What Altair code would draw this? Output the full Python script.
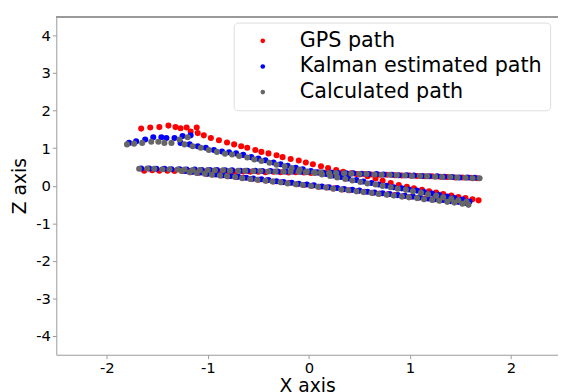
import altair as alt
import pandas as pd

# ---------------- GPS path ----------------
gps_upper_x = [-1.66, -1.57, -1.48, -1.39, -1.32, -1.27, -1.21, -1.11, -1.17, -1.10, -1.04, -0.97,
               -0.89, -0.81, -0.74, -0.67, -0.61, -0.53, -0.47, -0.40, -0.32, -0.26, -0.18, -0.10,
               -0.03, 0.04, 0.12, 0.19, 0.27, 0.34, 0.42, 0.50, 0.58, 0.66, 0.73, 0.81,
               0.89, 0.97, 1.04, 1.12, 1.19, 1.26, 1.33, 1.41, 1.48, 1.55, 1.62, 1.68]
gps_upper_z = [1.52, 1.55, 1.56, 1.60, 1.56, 1.53, 1.55, 1.55, 1.44, 1.40, 1.34, 1.27,
               1.21, 1.15, 1.10, 1.05, 1.01, 0.95, 0.90, 0.86, 0.81, 0.76, 0.71, 0.67,
               0.62, 0.57, 0.52, 0.47, 0.42, 0.37, 0.33, 0.30, 0.25, 0.19, 0.13, 0.07,
               0.02, -0.03, -0.07, -0.11, -0.15, -0.18, -0.22, -0.26, -0.30, -0.33, -0.36, -0.39]
gps_flat_x = [-1.63, -1.55, -1.48, -1.40, -1.33, -1.25, -1.18, -1.10, -1.03, -0.95, -0.88, -0.80,
              -0.73, -0.65, -0.58, -0.50, -0.43, -0.35, -0.28, -0.20, -0.13, -0.05, 0.02, 0.10,
              0.17, 0.25, 0.32, 0.40, 0.47, 0.55, 0.62, 0.70, 0.77, 0.85, 0.92, 1.00,
              1.07, 1.15, 1.22, 1.30, 1.37, 1.45, 1.52, 1.60, 1.67]
gps_flat_z = [0.40, 0.41, 0.40, 0.40, 0.39, 0.40, 0.39, 0.39, 0.38, 0.39, 0.38, 0.38,
              0.37, 0.38, 0.37, 0.37, 0.36, 0.37, 0.36, 0.35, 0.36, 0.35, 0.34, 0.35,
              0.34, 0.33, 0.33, 0.32, 0.31, 0.31, 0.30, 0.29, 0.29, 0.28, 0.27, 0.27,
              0.26, 0.25, 0.25, 0.24, 0.23, 0.22, 0.22, 0.21, 0.20]
gps_lower_x = [-1.25, -1.17, -1.10, -1.02, -0.95, -0.87, -0.80, -0.72, -0.65, -0.57, -0.50, -0.42,
               -0.35, -0.27, -0.20, -0.12, -0.05, 0.03, 0.10, 0.18, 0.25, 0.33, 0.40, 0.48,
               0.55, 0.63, 0.70, 0.78, 0.85, 0.93, 1.00, 1.08, 1.15, 1.23, 1.30, 1.38, 1.45, 1.53]
gps_lower_z = [0.39, 0.36, 0.34, 0.32, 0.30, 0.27, 0.25, 0.23, 0.21, 0.18, 0.16, 0.14,
               0.11, 0.09, 0.07, 0.04, 0.02, 0.00, -0.03, -0.05, -0.07, -0.10, -0.12, -0.14,
               -0.16, -0.19, -0.21, -0.23, -0.25, -0.28, -0.30, -0.32, -0.34, -0.37, -0.39, -0.41, -0.43, -0.45]

# ---------------- Kalman estimated path ----------------
kal_upper_x = [-1.78, -1.71, -1.62, -1.54, -1.46, -1.41, -1.33, -1.25, -1.17,
               -1.27, -1.18, -1.10, -1.02, -0.94, -0.86, -0.79, -0.72, -0.65, -0.57, -0.50, -0.43,
               -0.35, -0.28, -0.21, -0.13, -0.06, 0.02, 0.09, 0.17, 0.24, 0.32, 0.39, 0.47,
               0.54, 0.62, 0.69, 0.77, 0.84, 0.92, 0.99, 1.07, 1.14, 1.22, 1.29, 1.37, 1.44, 1.52, 1.59]
kal_upper_z = [1.14, 1.18, 1.23, 1.29, 1.29, 1.27, 1.27, 1.32, 1.34,
               1.14, 1.10, 1.05, 1.01, 0.95, 0.91, 0.89, 0.86, 0.82, 0.76, 0.72, 0.68,
               0.62, 0.57, 0.53, 0.48, 0.44, 0.39, 0.35, 0.31, 0.27, 0.23, 0.19, 0.15,
               0.11, 0.07, 0.03, 0.00, -0.04, -0.07, -0.10, -0.13, -0.17, -0.21, -0.25, -0.29, -0.33, -0.37, -0.42]
kal_flat_x = [-1.66, -1.58, -1.51, -1.43, -1.36, -1.28, -1.21, -1.13, -1.06, -0.98, -0.91, -0.83,
              -0.76, -0.68, -0.61, -0.53, -0.46, -0.38, -0.31, -0.23, -0.16, -0.08, -0.01, 0.07,
              0.14, 0.22, 0.29, 0.37, 0.44, 0.52, 0.59, 0.67, 0.74, 0.82, 0.89, 0.97,
              1.04, 1.12, 1.19, 1.27, 1.34, 1.42, 1.49, 1.57, 1.64]
kal_flat_z = [0.46, 0.46, 0.45, 0.45, 0.44, 0.44, 0.43, 0.43, 0.42, 0.42, 0.42, 0.41,
              0.41, 0.40, 0.40, 0.40, 0.39, 0.39, 0.38, 0.38, 0.38, 0.37, 0.37, 0.36,
              0.35, 0.35, 0.34, 0.33, 0.33, 0.32, 0.31, 0.31, 0.30, 0.29, 0.28, 0.28,
              0.27, 0.26, 0.25, 0.25, 0.24, 0.23, 0.22, 0.22, 0.21]
kal_lower_x = [-1.22, -1.15, -1.07, -1.00, -0.92, -0.85, -0.77, -0.70, -0.62, -0.55, -0.47, -0.40,
               -0.32, -0.25, -0.17, -0.10, -0.02, 0.05, 0.13, 0.20, 0.28, 0.35, 0.43, 0.50,
               0.58, 0.65, 0.73, 0.80, 0.88, 0.95, 1.03, 1.10, 1.18, 1.25, 1.33, 1.40, 1.48, 1.55]
kal_lower_z = [0.39, 0.37, 0.35, 0.32, 0.30, 0.28, 0.26, 0.24, 0.21, 0.19, 0.17, 0.15,
               0.12, 0.10, 0.08, 0.05, 0.03, 0.01, -0.02, -0.04, -0.06, -0.09, -0.11, -0.13,
               -0.16, -0.18, -0.20, -0.22, -0.25, -0.27, -0.29, -0.31, -0.34, -0.36, -0.38, -0.41, -0.43, -0.46]

# ---------------- Calculated path ----------------
calc_upper_x = [-1.80, -1.73, -1.65, -1.56, -1.49, -1.43, -1.36, -1.28, -1.20,
                -1.23, -1.15, -1.07, -0.99, -0.91, -0.83, -0.76, -0.69, -0.61, -0.54, -0.47, -0.39,
                -0.32, -0.24, -0.17, -0.09, -0.02, 0.06, 0.13, 0.21, 0.28, 0.36, 0.43, 0.51,
                0.58, 0.66, 0.73, 0.81, 0.88, 0.96, 1.03, 1.11, 1.18, 1.26, 1.33, 1.41, 1.48, 1.56]
calc_upper_z = [1.10, 1.12, 1.14, 1.17, 1.17, 1.14, 1.14, 1.23, 1.29,
                1.10, 1.05, 1.01, 0.95, 0.90, 0.85, 0.83, 0.79, 0.75, 0.70, 0.66, 0.61,
                0.56, 0.52, 0.47, 0.43, 0.38, 0.34, 0.30, 0.26, 0.22, 0.18, 0.14, 0.10,
                0.06, 0.03, -0.01, -0.04, -0.08, -0.11, -0.15, -0.19, -0.23, -0.27, -0.31, -0.35, -0.39, -0.43]
calc_flat_x = [-1.68, -1.60, -1.53, -1.45, -1.38, -1.30, -1.23, -1.15, -1.08, -1.00, -0.93, -0.85,
               -0.78, -0.70, -0.63, -0.55, -0.48, -0.40, -0.33, -0.25, -0.18, -0.10, -0.03, 0.05,
               0.12, 0.20, 0.27, 0.35, 0.42, 0.50, 0.57, 0.65, 0.72, 0.80, 0.87, 0.95,
               1.02, 1.10, 1.17, 1.25, 1.32, 1.40, 1.47, 1.55, 1.62, 1.69]
calc_flat_z = [0.45, 0.46, 0.45, 0.44, 0.44, 0.43, 0.43, 0.42, 0.42, 0.42, 0.41, 0.41,
               0.40, 0.40, 0.40, 0.39, 0.39, 0.38, 0.38, 0.37, 0.37, 0.37, 0.36, 0.35,
               0.35, 0.34, 0.34, 0.33, 0.32, 0.31, 0.31, 0.30, 0.29, 0.29, 0.28, 0.27,
               0.26, 0.26, 0.25, 0.24, 0.23, 0.23, 0.22, 0.21, 0.20, 0.20]
calc_lower_x = [-1.26, -1.18, -1.11, -1.03, -0.96, -0.88, -0.81, -0.73, -0.66, -0.58, -0.51, -0.43,
                -0.36, -0.28, -0.21, -0.13, -0.06, 0.02, 0.09, 0.17, 0.24, 0.32, 0.39, 0.47,
                0.54, 0.62, 0.69, 0.77, 0.84, 0.92, 0.99, 1.07, 1.14, 1.22, 1.29, 1.37, 1.44, 1.52, 1.58]
calc_lower_z = [0.39, 0.36, 0.34, 0.32, 0.29, 0.27, 0.25, 0.23, 0.20, 0.18, 0.16, 0.13,
                0.11, 0.09, 0.06, 0.04, 0.02, -0.01, -0.03, -0.05, -0.08, -0.10, -0.12, -0.15,
                -0.17, -0.19, -0.22, -0.24, -0.26, -0.29, -0.31, -0.33, -0.36, -0.38, -0.40, -0.43, -0.45, -0.48, -0.51]

series_names = ["GPS path", "Kalman estimated path", "Calculated path"]
series_colors = ["#ff0000", "#0000ff", "#666666"]
x_ticks = [-2, -1, 0, 1, 2]
z_ticks = [-4, -3, -2, -1, 0, 1, 2, 3, 4]

segments = [
    ("GPS path", [(gps_upper_x, gps_upper_z), (gps_flat_x, gps_flat_z), (gps_lower_x, gps_lower_z)]),
    ("Kalman estimated path", [(kal_upper_x, kal_upper_z), (kal_flat_x, kal_flat_z), (kal_lower_x, kal_lower_z)]),
    ("Calculated path", [(calc_upper_x, calc_upper_z), (calc_flat_x, calc_flat_z), (calc_lower_x, calc_lower_z)]),
]
rows = []
for name, segs in segments:
    for xv_list, zv_list in segs:
        for xv, zv in zip(xv_list, zv_list):
            rows.append({"x": xv, "z": zv, "series": name})
df = pd.DataFrame(rows)

FONT = "DejaVu Sans"
W, H = 509, 343

points = alt.Chart(df).mark_circle(size=38, opacity=1).encode(
    x=alt.X("x:Q",
            scale=alt.Scale(domain=[-2.5, 2.466], nice=False, zero=False),
            axis=alt.Axis(values=x_ticks, title="X axis", labelExpr="'' + datum.value",
                          titlePadding=1)),
    y=alt.Y("z:Q",
            scale=alt.Scale(domain=[-4.5, 4.5], nice=False, zero=False),
            axis=alt.Axis(values=z_ticks, title="Z axis", labelExpr="'' + datum.value",
                          titlePadding=6)),
    color=alt.Color("series:N",
                    scale=alt.Scale(domain=series_names, range=series_colors),
                    legend=alt.Legend(title=None, orient="none", legendX=180, legendY=6,
                                      fillColor="white", strokeColor="#dddddd", cornerRadius=4,
                                      padding=8, labelFont=FONT, labelFontSize=21, labelLimit=0,
                                      labelColor="#000000", symbolType="circle", symbolSize=22,
                                      symbolStrokeWidth=0, symbolOffset=11, labelOffset=27,
                                      rowPadding=4)),
)

top_line = alt.Chart(df).mark_rule(color="#999999", strokeWidth=1).encode(
    x=alt.value(0), x2=alt.value(W), y=alt.value(0)
)

chart = alt.layer(points, top_line).properties(
    width=W, height=H,
    autosize="none",
    padding={"left": 49, "top": 6, "right": 0, "bottom": 35},
).configure_view(stroke=None).configure_axis(
    grid=False,
    domainColor="#999999",
    tickColor="#999999",
    tickSize=4,
    labelPadding=2,
    labelFont=FONT,
    labelFontSize=15,
    labelColor="#000000",
    titleFont=FONT,
    titleFontSize=19,
    titleFontWeight="normal",
    titleColor="#000000",
)

chart.save("out.html", embed_options={"renderer": "svg", "actions": False})
